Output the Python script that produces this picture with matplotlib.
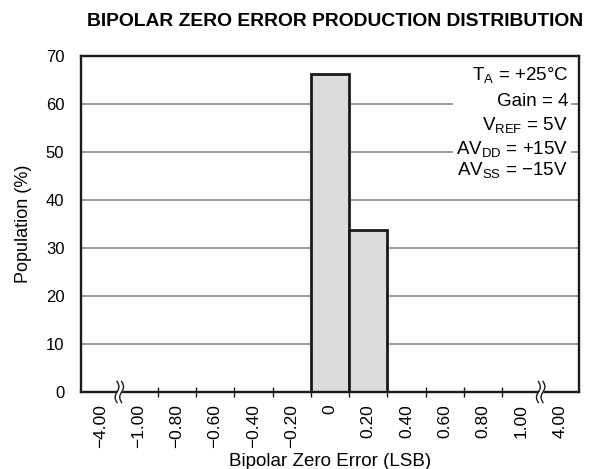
import matplotlib
matplotlib.use("Agg")
import matplotlib.pyplot as plt
from matplotlib.patches import Rectangle
import numpy as np

plt.rcParams['font.family'] = ['Liberation Sans', 'DejaVu Sans']
plt.rcParams['mathtext.fontset'] = 'custom'
plt.rcParams['mathtext.rm'] = 'Liberation Sans'
plt.rcParams['mathtext.it'] = 'Liberation Sans'
plt.rcParams['mathtext.bf'] = 'Liberation Sans:bold'

# Histogram bins (LSB) and population share per bin
bin_labels = ["\u22124.00", "\u22121.00", "\u22120.80", "\u22120.60", "\u22120.40", "\u22120.20",
              "0", "0.20", "0.40", "0.60", "0.80", "1.00", "4.00"]
population = [0, 0, 0, 0, 0, 0, 66.3, 33.7, 0, 0, 0, 0, 0]
y_ticks = [0, 10, 20, 30, 40, 50, 60, 70]
conditions = [r"T$_\mathregular{A}$ = +25°C",
              "Gain = 4",
              r"V$_\mathregular{REF}$ = 5V",
              r"AV$_\mathregular{DD}$ = +15V",
              r"AV$_\mathregular{SS}$ = $-$15V"]

fig = plt.figure(figsize=(6.01, 4.69), dpi=100)
ax = fig.add_axes([0.1348, 0.1642, 0.8286, 0.7164])

x = np.arange(len(bin_labels))
heights = np.array(population)
nz = heights > 0
ax.bar(x[nz], heights[nz], width=1.0, color="#dcdcdc", edgecolor="#1a1a1a",
       linewidth=2.0, zorder=3)

ax.set_xlim(-0.5, len(bin_labels) - 0.5)
ax.set_ylim(0, 70)
ax.set_yticks(y_ticks)
ax.tick_params(axis="y", length=0, pad=12, labelsize=12)

# Category labels sit at bin centres; tick marks at bin edges
ax.set_xticks(x)
ax.set_xticklabels(bin_labels, rotation=90, fontsize=12.5)
ax.tick_params(axis="x", which="major", length=0, pad=9)
ax.set_xticks(np.arange(1.5, len(bin_labels) - 2, 1.0), minor=True)
ax.tick_params(axis="x", which="minor", direction="inout", length=7, width=1.0,
               color="#1a1a1a")

for yv in y_ticks[1:-1]:
    ax.axhline(yv, color="#8a8a8a", linewidth=1.2, zorder=1)

for s in ax.spines.values():
    s.set_linewidth(1.7)
    s.set_color("#1a1a1a")
    s.set_zorder(4)

# Axis break marks between the outer bins
for xb in (0.5, len(bin_labels) - 1.5):
    t = np.linspace(-1, 1, 40)
    yy = t * 2.2
    wig = 0.05 * np.sin(t * np.pi)
    ax.fill_betweenx(yy, xb - 0.06 + wig, xb + 0.06 + wig, color="white",
                     zorder=6, clip_on=False, linewidth=0)
    for dx in (-0.06, 0.06):
        ax.plot(xb + dx + wig, yy, color="#1a1a1a", linewidth=1.0,
                zorder=7, clip_on=False)

# Test-condition block
ax.add_patch(Rectangle((0.747, 0.60), 0.237, 0.395, transform=ax.transAxes,
                       facecolor="white", edgecolor="none", zorder=2))
line_y = [0.929, 0.852, 0.780, 0.708, 0.646]
for txt, yy in zip(conditions, line_y):
    ax.text(0.978, yy, txt, transform=ax.transAxes, ha="right", va="baseline",
            fontsize=13.5, zorder=5)

ax.set_ylabel("Population (%)", fontsize=13, labelpad=10)
ax.set_xlabel("Bipolar Zero Error (LSB)", fontsize=13.5, labelpad=3)
fig.suptitle("BIPOLAR ZERO ERROR PRODUCTION DISTRIBUTION", fontsize=13.9,
             fontweight="bold", x=0.557, y=0.972)

fig.savefig("out.png", dpi=100)
